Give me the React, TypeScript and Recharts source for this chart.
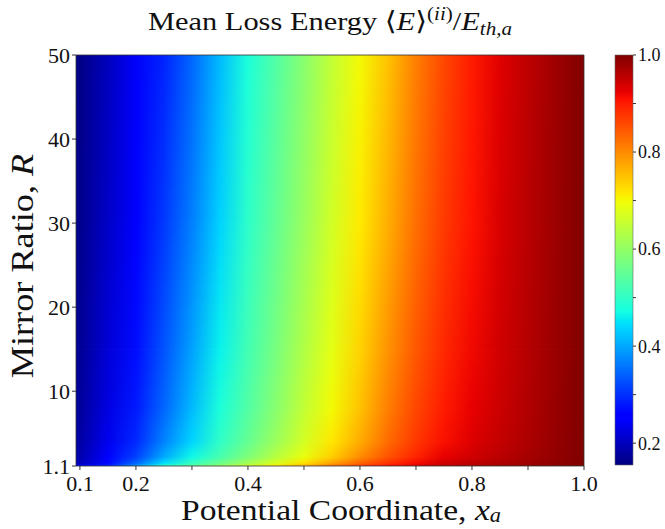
import { ComposedChart, XAxis, YAxis, ReferenceArea } from "recharts";

// sample grid of the potential coordinate x_a
const X_GRID = [0.1, 0.15, 0.2, 0.25, 0.3, 0.35, 0.4, 0.45, 0.5, 0.55, 0.6, 0.65, 0.7, 0.75, 0.8, 0.85, 0.9, 0.95, 1.0];
// mirror ratios of the sampled rows, low to high
const R_ROWS = [1.1, 1.5, 2.2, 4, 8, 15, 30, 50];

// <E>^(ii)/E_th,a along x_a, one list per mirror ratio
const E_R1_1 = [0.24, 0.286, 0.384, 0.491, 0.546, 0.602, 0.66, 0.71, 0.762, 0.82, 0.868, 0.906, 0.935, 0.96, 0.968, 0.976, 0.984, 0.992, 1.0];
const E_R1_5 = [0.198, 0.265, 0.341, 0.441, 0.502, 0.557, 0.614, 0.67, 0.72, 0.774, 0.83, 0.876, 0.912, 0.94, 0.953, 0.965, 0.977, 0.989, 1.0];
const E_R2_2 = [0.189, 0.249, 0.314, 0.401, 0.467, 0.524, 0.579, 0.638, 0.69, 0.74, 0.798, 0.85, 0.892, 0.924, 0.941, 0.957, 0.972, 0.986, 1.0];
const E_R4 = [0.182, 0.236, 0.294, 0.369, 0.437, 0.499, 0.554, 0.61, 0.667, 0.717, 0.77, 0.827, 0.874, 0.91, 0.932, 0.95, 0.967, 0.984, 1.0];
const E_R8 = [0.176, 0.227, 0.281, 0.345, 0.415, 0.48, 0.535, 0.59, 0.65, 0.7, 0.75, 0.81, 0.86, 0.9, 0.924, 0.945, 0.964, 0.982, 1.0];
const E_R15 = [0.171, 0.219, 0.27, 0.329, 0.394, 0.461, 0.519, 0.574, 0.632, 0.685, 0.735, 0.792, 0.845, 0.888, 0.917, 0.941, 0.961, 0.981, 1.0];
const E_R30 = [0.165, 0.208, 0.256, 0.307, 0.366, 0.435, 0.497, 0.552, 0.608, 0.665, 0.715, 0.768, 0.825, 0.872, 0.907, 0.935, 0.958, 0.979, 1.0];
const E_R50 = [0.16, 0.2, 0.245, 0.29, 0.345, 0.415, 0.48, 0.535, 0.59, 0.65, 0.7, 0.75, 0.81, 0.86, 0.9, 0.93, 0.955, 0.978, 1.0];
const ROWS = [E_R1_1, E_R1_5, E_R2_2, E_R4, E_R8, E_R15, E_R30, E_R50];

const X_TICKS = [0.1, 0.2, 0.3, 0.4, 0.5, 0.6, 0.7, 0.8, 0.9, 1.0];
const X_LABELS = ["0.1", "0.2", "", "0.4", "", "0.6", "", "0.8", "", "1.0"];
const R_TICKS = [1.1, 10, 20, 30, 40, 50];
const CB_TICKS = [0.2, 0.3, 0.4, 0.5, 0.6, 0.7, 0.8, 0.9, 1.0];
const CB_LABELS = ["0.2", "", "0.4", "", "0.6", "", "0.8", "", "1.0"];

const X_MIN = 0.093;
const X_MAX = 1.0;
const V_MIN = 0.155;
const V_MAX = 1.0;

const SERIF = "'Liberation Serif', 'DejaVu Serif', serif";

// matplotlib "jet" segment data
const JET: Record<string, number[][]> = {
  r: [[0, 0], [0.35, 0], [0.66, 1], [0.89, 1], [1, 0.5]],
  g: [[0, 0], [0.125, 0], [0.375, 1], [0.64, 1], [0.91, 0], [1, 0]],
  b: [[0, 0.5], [0.11, 1], [0.34, 1], [0.65, 0], [1, 0]],
};
const JET_BREAKS = [0, 0.11, 0.125, 0.34, 0.35, 0.375, 0.64, 0.65, 0.66, 0.89, 0.91, 1];

function channel(pts: number[][], t: number) {
  for (let k = 1; k < pts.length; k++) {
    const [t0, c0] = pts[k - 1];
    const [t1, c1] = pts[k];
    if (t <= t1) return c0 + ((c1 - c0) * (t - t0)) / (t1 - t0 || 1);
  }
  return pts[pts.length - 1][1];
}

function jet(t: number) {
  const u = Math.min(1, Math.max(0, t));
  const c = (k: string) => Math.round(channel(JET[k], u) * 255);
  return `rgb(${c("r")},${c("g")},${c("b")})`;
}

const norm = (v: number) => (v - V_MIN) / (V_MAX - V_MIN);

function Defs() {
  return (
    <svg width={0} height={0} style={{ position: "absolute" }}>
      <defs>
        {ROWS.map((row, i) => (
          <linearGradient key={i} id={`row-${i}`} x1="0" y1="0" x2="1" y2="0">
            {row.map((v, j) => (
              <stop key={j} offset={(X_GRID[j] - X_MIN) / (X_MAX - X_MIN)} stopColor={jet(norm(v))} />
            ))}
          </linearGradient>
        ))}
        <linearGradient id="vfade" x1="0" y1="0" x2="0" y2="1">
          <stop offset="0" stopColor="#fff" stopOpacity={1} />
          <stop offset="1" stopColor="#fff" stopOpacity={0} />
        </linearGradient>
        <mask id="fade" maskContentUnits="objectBoundingBox">
          <rect x={0} y={0} width={1} height={1} fill="url(#vfade)" />
        </mask>
        <linearGradient id="cbar" x1="0" y1="1" x2="0" y2="0">
          {JET_BREAKS.map((t) => (
            <stop key={t} offset={t} stopColor={jet(t)} />
          ))}
        </linearGradient>
      </defs>
    </svg>
  );
}

const tickStyle = { fill: "#111", fontSize: 22, fontFamily: SERIF };

export default function App() {
  const bands = R_ROWS.slice(0, -1).map((lo, i) => ({ lo, hi: R_ROWS[i + 1], i }));

  return (
    <div style={{ position: "fixed", left: 0, top: 0, width: 665, height: 529, background: "#fff" }}>
      <Defs />
      <div style={{ position: "absolute", left: 0, top: 0 }}>
        <ComposedChart width={665} height={529} margin={{ top: 55, right: 81, bottom: 23, left: 16 }}>
          <XAxis
            type="number"
            dataKey="x"
            domain={[X_MIN, X_MAX]}
            allowDataOverflow
            ticks={X_TICKS}
            interval={0}
            tickFormatter={(v: number) => X_LABELS[X_TICKS.indexOf(v)] ?? ""}
            tick={tickStyle}
            tickSize={4}
            tickMargin={5}
            tickLine={{ stroke: "#333" }}
            axisLine={false}
            height={40}
          />
          <YAxis
            type="number"
            dataKey="r"
            domain={[1.1, 50]}
            allowDataOverflow
            ticks={R_TICKS}
            interval={0}
            tickFormatter={(v: number) => String(v)}
            tick={tickStyle}
            tickSize={4}
            tickMargin={2}
            tickLine={{ stroke: "#333" }}
            axisLine={false}
            width={60}
          />
          {bands.map((b) => (
            <ReferenceArea
              key={b.i}
              x1={X_MIN}
              x2={X_MAX}
              y1={b.lo}
              y2={b.hi}
              ifOverflow="visible"
              shape={(p: any) => (
                <g>
                  <rect
                    x={p.x}
                    y={p.y}
                    width={p.width}
                    height={p.height + (b.i > 0 ? 0.6 : 0)}
                    fill={`url(#row-${b.i})`}
                  />
                  <rect x={p.x} y={p.y} width={p.width} height={p.height} fill={`url(#row-${b.i + 1})`} mask="url(#fade)" />
                </g>
              )}
            />
          ))}
          <ReferenceArea
            x1={X_MIN}
            x2={X_MAX}
            y1={1.1}
            y2={50}
            ifOverflow="visible"
            fill="none"
            fillOpacity={0}
            stroke="#333"
            strokeWidth={0.8}
          />
        </ComposedChart>
      </div>

      <div style={{ position: "absolute", left: 600, top: 0 }}>
        <ComposedChart width={65} height={529} margin={{ top: 55, right: 0, bottom: 64, left: 15 }}>
          <XAxis type="number" dataKey="x" domain={[0, 1]} allowDataOverflow hide />
          <YAxis
            type="number"
            dataKey="v"
            orientation="right"
            domain={[V_MIN, V_MAX]}
            allowDataOverflow
            ticks={CB_TICKS}
            interval={0}
            tickFormatter={(v: number) => CB_LABELS[CB_TICKS.indexOf(v)] ?? ""}
            tick={{ fill: "#111", fontSize: 18, fontFamily: SERIF }}
            tickSize={3}
            tickMargin={2}
            tickLine={{ stroke: "#333" }}
            axisLine={false}
            width={32}
          />
          <ReferenceArea
            x1={0}
            x2={1}
            y1={V_MIN}
            y2={V_MAX}
            ifOverflow="visible"
            shape={(p: any) => (
              <rect x={p.x} y={p.y} width={p.width} height={p.height} fill="url(#cbar)" stroke="#666" strokeWidth={0.6} />
            )}
          />
        </ComposedChart>
      </div>

      <svg
        width={665}
        height={529}
        style={{ position: "absolute", left: 0, top: 0, pointerEvents: "none" }}
        fontFamily={SERIF}
        fill="#111"
      >
        <text transform="translate(330,30) scale(1.17,1)" textAnchor="middle" fontSize={26}>
          Mean Loss Energy ⟨<tspan fontStyle="italic">E</tspan>⟩
          <tspan fontSize={18} dy={-10}>
            (<tspan fontStyle="italic">ii</tspan>)
          </tspan>
          <tspan dy={10}>/</tspan>
          <tspan fontStyle="italic">E</tspan>
          <tspan fontSize={18} dy={5} fontStyle="italic">
            th,a
          </tspan>
        </text>
        <text transform="translate(341,520) scale(1.12,1)" textAnchor="middle" fontSize={30}>
          Potential Coordinate, <tspan fontStyle="italic">x</tspan>
          <tspan fontSize={20} dy={2} fontStyle="italic">
            a
          </tspan>
        </text>
        <text transform="translate(33,266) rotate(-90) scale(1.17,1)" textAnchor="middle" fontSize={31}>
          Mirror Ratio, <tspan fontStyle="italic">R</tspan>
        </text>
      </svg>
    </div>
  );
}
